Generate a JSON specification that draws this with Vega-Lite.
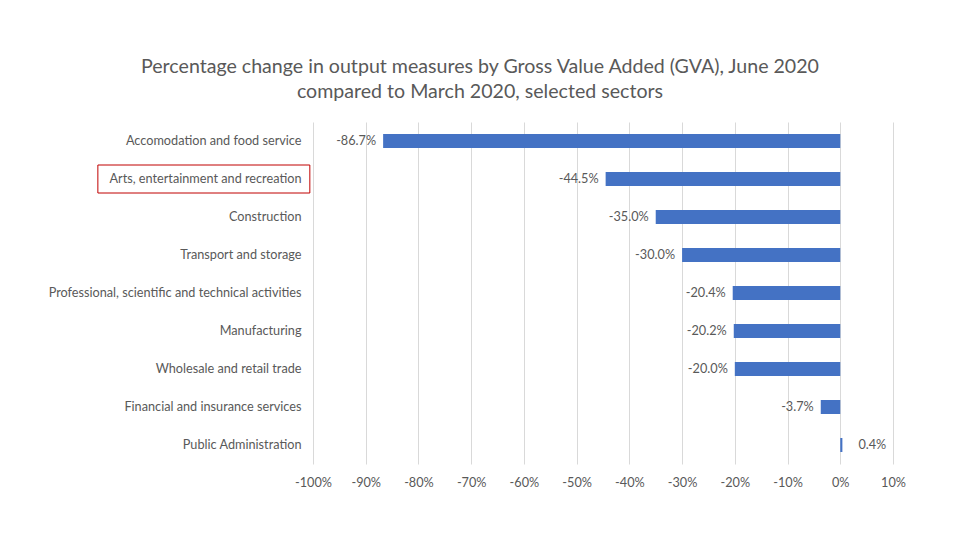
{
  "$schema": "https://vega.github.io/schema/vega-lite/v6.json",
  "autosize": {"type": "none"},
  "width": 580,
  "height": 342,
  "padding": {"left": 313, "top": 122, "right": 67, "bottom": 76},
  "background": "white",
  "config": {
    "view": {"stroke": null},
    "font": "Lato",
    "text": {"font": "Lato"}
  },
  "title": {
    "text": ["Percentage change in output measures by Gross Value Added (GVA), June 2020", "compared to March 2020, selected sectors"],
    "font": "Lato",
    "fontSize": 19.6,
    "fontWeight": "normal",
    "color": "#595959",
    "lineHeight": 25,
    "anchor": "middle",
    "dx": -123,
    "offset": 19
  },
  "data": {
    "values": [
      {"sector": "Accomodation and food service", "change": -86.7},
      {"sector": "Arts, entertainment and recreation", "change": -44.5},
      {"sector": "Construction", "change": -35.0},
      {"sector": "Transport and storage", "change": -30.0},
      {"sector": "Professional, scientific and technical activities", "change": -20.4},
      {"sector": "Manufacturing", "change": -20.2},
      {"sector": "Wholesale and retail trade", "change": -20.0},
      {"sector": "Financial and insurance services", "change": -3.7},
      {"sector": "Public Administration", "change": 0.4}
    ]
  },
  "transform": [
    {"calculate": "replace(format(datum.change, '.1f'), '−', '-') + '%'", "as": "label"}
  ],
  "encoding": {
    "y": {
      "field": "sector",
      "type": "nominal",
      "sort": null,
      "title": null,
      "axis": {
        "domain": false,
        "ticks": false,
        "labelFont": "Lato",
        "labelFontSize": 12.7,
        "labelColor": "#595959",
        "labelPadding": 12,
        "labelLimit": 400
      }
    }
  },
  "layer": [
    {
      "mark": {"type": "bar", "color": "#4472C4", "size": 14},
      "encoding": {
        "x": {
          "field": "change",
          "type": "quantitative",
          "scale": {"domain": [-100, 10], "nice": false, "zero": true},
          "title": null,
          "axis": {
            "values": [-100, -90, -80, -70, -60, -50, -40, -30, -20, -10, 0, 10],
            "labelExpr": "datum.value + '%'",
            "labelFlush": false,
            "labelOverlap": false,
            "domain": false,
            "ticks": false,
            "grid": true,
            "gridColor": "#d9d9d9",
            "gridWidth": 1,
            "labelFont": "Lato",
            "labelFontSize": 12.7,
            "labelColor": "#595959",
            "labelPadding": 12
          }
        }
      }
    },
    {
      "transform": [{"filter": "datum.change < 0"}],
      "mark": {"type": "text", "align": "right", "dx": -7, "fontSize": 12.7, "color": "#595959", "font": "Lato"},
      "encoding": {
        "x": {"field": "change", "type": "quantitative"},
        "text": {"field": "label"}
      }
    },
    {
      "transform": [{"filter": "datum.change >= 0"}],
      "mark": {"type": "text", "align": "left", "dx": 16, "fontSize": 12.7, "color": "#595959", "font": "Lato"},
      "encoding": {
        "x": {"field": "change", "type": "quantitative"},
        "text": {"field": "label"}
      }
    },
    {
      "transform": [{"filter": "datum.sector === 'Arts, entertainment and recreation'"}],
      "mark": {"type": "bar", "fill": null, "fillOpacity": 0, "stroke": "#C00000", "strokeWidth": 1, "size": 28, "clip": false},
      "encoding": {
        "x": {"datum": -140.8, "type": "quantitative"},
        "x2": {"datum": -100.6}
      }
    }
  ]
}
